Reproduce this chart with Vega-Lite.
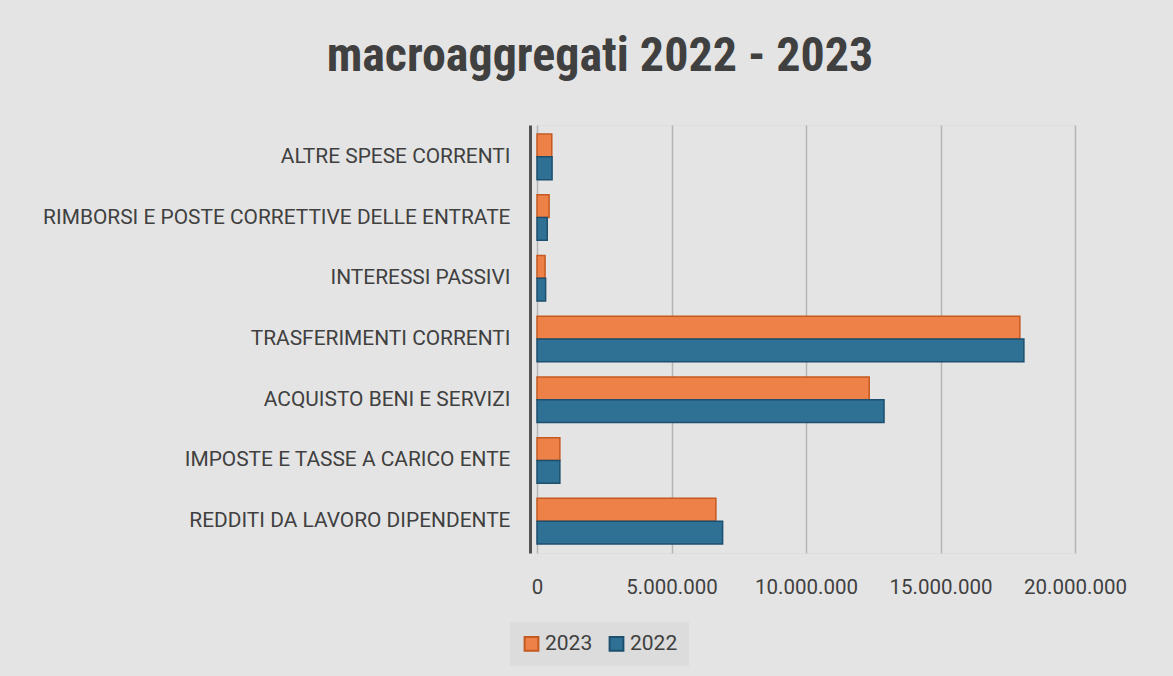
{
  "$schema": "https://vega.github.io/schema/vega-lite/v6.json",
  "width": 538,
  "height": 428,
  "autosize": {"type": "none"},
  "padding": {"left": 537, "top": 125, "right": 98, "bottom": 123},
  "background": "#e4e4e4",
  "title": {
    "text": "macroaggregati 2022 - 2023",
    "anchor": "middle",
    "frame": "group",
    "dx": -206,
    "fontSize": 48,
    "font": "Roboto Condensed, Roboto, sans-serif",
    "fontWeight": "bold",
    "color": "#404040",
    "offset": 44
  },
  "data": {
    "values": [
      {"voce": "ALTRE SPESE CORRENTI", "anno": "2023", "valore": 550000},
      {"voce": "ALTRE SPESE CORRENTI", "anno": "2022", "valore": 560000},
      {"voce": "RIMBORSI E POSTE CORRETTIVE DELLE ENTRATE", "anno": "2023", "valore": 450000},
      {"voce": "RIMBORSI E POSTE CORRETTIVE DELLE ENTRATE", "anno": "2022", "valore": 380000},
      {"voce": "INTERESSI PASSIVI", "anno": "2023", "valore": 300000},
      {"voce": "INTERESSI PASSIVI", "anno": "2022", "valore": 320000},
      {"voce": "TRASFERIMENTI CORRENTI", "anno": "2023", "valore": 17950000},
      {"voce": "TRASFERIMENTI CORRENTI", "anno": "2022", "valore": 18100000},
      {"voce": "ACQUISTO BENI E SERVIZI", "anno": "2023", "valore": 12350000},
      {"voce": "ACQUISTO BENI E SERVIZI", "anno": "2022", "valore": 12900000},
      {"voce": "IMPOSTE E TASSE A CARICO ENTE", "anno": "2023", "valore": 850000},
      {"voce": "IMPOSTE E TASSE A CARICO ENTE", "anno": "2022", "valore": 850000},
      {"voce": "REDDITI DA LAVORO DIPENDENTE", "anno": "2023", "valore": 6650000},
      {"voce": "REDDITI DA LAVORO DIPENDENTE", "anno": "2022", "valore": 6900000}
    ]
  },
  "mark": {"type": "bar", "strokeWidth": 1.5},
  "encoding": {
    "y": {
      "field": "voce",
      "type": "nominal",
      "sort": ["ALTRE SPESE CORRENTI", "RIMBORSI E POSTE CORRETTIVE DELLE ENTRATE", "INTERESSI PASSIVI", "TRASFERIMENTI CORRENTI", "ACQUISTO BENI E SERVIZI", "IMPOSTE E TASSE A CARICO ENTE", "REDDITI DA LAVORO DIPENDENTE"],
      "scale": {"paddingInner": 0.25, "paddingOuter": 0.15},
      "axis": {
        "title": null,
        "labelFontSize": 20.9,
        "labelFont": "Roboto, sans-serif",
        "labelColor": "#404040",
        "labelPadding": 20,
        "labelLimit": 600,
        "ticks": false,
        "domain": true,
        "domainColor": "#505050",
        "domainWidth": 3,
        "offset": 7,
        "grid": false
      }
    },
    "yOffset": {"field": "anno", "type": "nominal", "sort": ["2023", "2022"]},
    "x": {
      "field": "valore",
      "type": "quantitative",
      "scale": {"domain": [0, 20000000], "nice": false},
      "axis": {
        "title": null,
        "values": [0, 5000000, 10000000, 15000000, 20000000],
        "labelExpr": "replace(format(datum.value, ','), regexp(',', 'g'), '.')",
        "labelFontSize": 20.5,
        "labelFont": "Roboto, sans-serif",
        "labelColor": "#404040",
        "labelPadding": 24,
        "labelOverlap": false,
        "labelFlush": false,
        "ticks": false,
        "domain": false,
        "grid": true,
        "gridColor": "#b5b5b5",
        "gridWidth": 1.5
      }
    },
    "fill": {
      "field": "anno",
      "type": "nominal",
      "sort": ["2023", "2022"],
      "scale": {"domain": ["2023", "2022"], "range": ["#EE8148", "#2F7095"]},
      "legend": {
        "title": null,
        "orient": "none",
        "legendX": -27,
        "legendY": 497,
        "direction": "horizontal",
        "fillColor": "#dcdcdc",
        "padding": 11,
        "symbolType": "square",
        "symbolSize": 190,
        "symbolStrokeWidth": 2,
        "labelFontSize": 21,
        "labelFont": "Roboto, sans-serif",
        "labelColor": "#404040",
        "columnPadding": 12,
        "labelOffset": 3
      }
    },
    "stroke": {
      "field": "anno",
      "type": "nominal",
      "sort": ["2023", "2022"],
      "scale": {"domain": ["2023", "2022"], "range": ["#C55A20", "#1D4F6E"]}
    }
  }
}
